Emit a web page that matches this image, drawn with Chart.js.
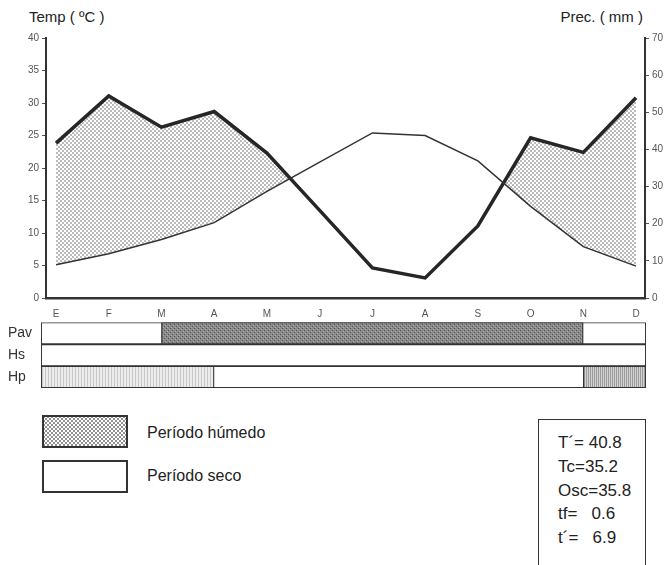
<!DOCTYPE html>
<html>
<head>
<meta charset="utf-8">
<script src="https://cdn.jsdelivr.net/npm/chart.js@4.4.1/dist/chart.umd.min.js"></script>
<style>
  body { margin: 0; width: 670px; height: 565px; overflow: hidden; background: #fff;
         font-family: "Liberation Sans", Arial, sans-serif; color: #222; position: relative; }
  canvas { position: absolute; left: 0; }
  .txt { position: absolute; white-space: pre; }
  .box { position: absolute; box-sizing: border-box; border: 2px solid #333; background: #fff; }
  .dots {
    background-color: #fff;
    background-image: radial-gradient(circle, #555 0.55px, transparent 1px),
                      radial-gradient(circle, #555 0.55px, transparent 1px);
    background-size: 4px 4px, 4px 4px;
    background-position: 0 0, 2px 2px;
  }
</style>
</head>
<body>
<div class="txt" style="left:29px;top:8px;font-size:15px;">Temp ( ºC )</div>
<div class="txt" style="right:27px;top:8px;font-size:15px;">Prec. ( mm )</div>

<canvas id="climChart" width="670" height="320" style="top:0"></canvas>
<canvas id="bandChart" width="670" height="84" style="top:314px"></canvas>

<div class="box dots" style="left:42px;top:415px;width:86px;height:33px;"></div>
<div class="txt" style="left:147px;top:424px;font-size:16px;">Período húmedo</div>
<div class="box" style="left:42px;top:460px;width:86px;height:33px;"></div>
<div class="txt" style="left:147px;top:467px;font-size:16px;">Período seco</div>

<div class="box" style="left:538px;top:419px;width:108px;height:170px;border-width:1.5px;"></div>
<div class="txt" id="stats" style="left:558px;top:431px;font-size:17px;line-height:23.8px;"></div>

<script>
// months (Spanish initials)
const months = ['E','F','M','A','M','J','J','A','S','O','N','D'];
// mean temperature, ºC (thin line, left axis)
const tempC = [5.1, 6.8, 9.0, 11.6, 16.4, 20.9, 25.4, 25.0, 21.1, 14.1, 7.9, 4.9];
// precipitation, mm (thick line, right axis)
const precMm = [41.7, 54.4, 46.0, 50.2, 39.0, 23.6, 8.1, 5.4, 19.4, 43.1, 39.2, 53.9];

// bottom strip rows and shaded spans (month index positions)
const bandRows = ['Pav', 'Hs', 'Hp'];
const pavSpan = [2, 10];
const hpEarlySpan = ['start', 3];
const hpLateSpan = [10, 'end'];

const stats = ['T´= 40.8', 'Tc=35.2', 'Osc=35.8', 'tf=   0.6', 't´=   6.9'];
document.getElementById('stats').textContent = stats.join('\n');

function makePattern(size, draw) {
  const c = document.createElement('canvas');
  c.width = size[0]; c.height = size[1];
  const g = c.getContext('2d');
  draw(g);
  return g.createPattern(c, 'repeat');
}

const humidFill = makePattern([4, 4], g => {
  g.fillStyle = '#fff'; g.fillRect(0, 0, 4, 4);
  g.fillStyle = '#555';
  g.beginPath(); g.arc(1, 1, 0.75, 0, Math.PI * 2); g.fill();
  g.beginPath(); g.arc(3, 3, 0.75, 0, Math.PI * 2); g.fill();
});
const pavFill = makePattern([4, 4], g => {
  g.fillStyle = '#8a8a8a'; g.fillRect(0, 0, 4, 4);
  g.fillStyle = '#555'; g.fillRect(0, 0, 1, 1); g.fillRect(2, 2, 1, 1);
  g.fillStyle = '#ababab'; g.fillRect(1, 3, 1, 1); g.fillRect(3, 1, 1, 1);
});
const hpEarlyFill = makePattern([3, 3], g => {
  g.fillStyle = '#ececec'; g.fillRect(0, 0, 3, 3);
  g.fillStyle = '#c8c8c8'; g.fillRect(0, 0, 1, 3);
});
const hpLateFill = makePattern([2, 2], g => {
  g.fillStyle = '#d4d4d4'; g.fillRect(0, 0, 2, 2);
  g.fillStyle = '#9a9a9a'; g.fillRect(0, 0, 1, 2);
});

const tickFont = { family: 'Liberation Sans, Arial, sans-serif', size: 10 };

new Chart(document.getElementById('climChart'), {
  type: 'line',
  data: {
    datasets: [
      {
        label: 'Temp',
        data: tempC.map((v, i) => ({ x: i, y: v })),
        yAxisID: 'y',
        borderColor: '#333',
        borderWidth: 1.5,
        pointRadius: 0,
        tension: 0,
        fill: false,
      },
      {
        label: 'Prec',
        data: precMm.map((v, i) => ({ x: i, y: v })),
        yAxisID: 'y2',
        borderColor: '#262626',
        borderWidth: 3.5,
        pointRadius: 0,
        tension: 0,
        fill: { target: 0, above: humidFill, below: 'rgba(0,0,0,0)' },
      },
    ],
  },
  options: {
    responsive: false,
    animation: false,
    layout: { padding: { top: 38, left: 0, right: 0, bottom: 0 } },
    plugins: { legend: { display: false }, tooltip: { enabled: false } },
    scales: {
      x: {
        type: 'linear',
        min: -0.19,
        max: 11.17,
        grid: { display: false, drawTicks: false },
        border: { display: true, color: '#333', width: 2.5 },
        ticks: {
          stepSize: 1, includeBounds: false, autoSkip: false, maxRotation: 0,
          padding: 10, font: tickFont, color: '#555',
          callback: v => (Number.isInteger(v) ? months[v] : ''),
        },
        afterFit: s => { s.height = 22; },
      },
      y: {
        position: 'left',
        min: 0, max: 40,
        grid: { drawOnChartArea: false, tickLength: 4, color: '#555' },
        border: { color: '#333', width: 2 },
        ticks: { stepSize: 5, padding: 3, font: tickFont, color: '#555' },
        afterFit: s => { s.width = 46; },
      },
      y2: {
        position: 'right',
        min: 0, max: 70,
        grid: { drawOnChartArea: false, tickLength: 4, color: '#555' },
        border: { color: '#333', width: 2 },
        ticks: { stepSize: 10, padding: 3, font: tickFont, color: '#555' },
        afterFit: s => { s.width = 25; },
      },
    },
  },
});

// strip below the chart
const bandMin = -0.284, bandMax = 11.19;
const edge = v => (v === 'start' ? bandMin : v === 'end' ? bandMax : v);
const rowData = (row, span) => bandRows.map(r => (r === row ? span.map(edge) : null));

new Chart(document.getElementById('bandChart'), {
  type: 'bar',
  data: {
    labels: bandRows,
    datasets: [
      {
        data: bandRows.map(() => [bandMin, bandMax]),
        backgroundColor: '#fff', borderColor: '#333', borderWidth: 1.3,
        borderSkipped: false, order: 10,
      },
      {
        data: rowData('Pav', pavSpan),
        backgroundColor: pavFill, borderColor: '#333', borderWidth: 1.3,
        borderSkipped: false, order: 1,
      },
      {
        data: rowData('Hp', hpEarlySpan),
        backgroundColor: hpEarlyFill, borderColor: '#333', borderWidth: 1.3,
        borderSkipped: false, order: 1,
      },
      {
        data: rowData('Hp', hpLateSpan),
        backgroundColor: hpLateFill, borderColor: '#333', borderWidth: 1.3,
        borderSkipped: false, order: 1,
      },
    ],
  },
  options: {
    indexAxis: 'y',
    responsive: false,
    animation: false,
    layout: { padding: { top: 8, left: 8, right: 24, bottom: 10 } },
    plugins: { legend: { display: false }, tooltip: { enabled: false } },
    datasets: { bar: { grouped: false, barPercentage: 1, categoryPercentage: 1 } },
    scales: {
      x: { type: 'linear', min: bandMin, max: bandMax, display: false },
      y: {
        grid: { display: false },
        border: { display: false },
        ticks: { crossAlign: 'far', padding: 0, font: { family: 'Liberation Sans, Arial, sans-serif', size: 14 }, color: '#333' },
        afterFit: s => { s.width = 33; },
      },
    },
  },
});
</script>
</body>
</html>
